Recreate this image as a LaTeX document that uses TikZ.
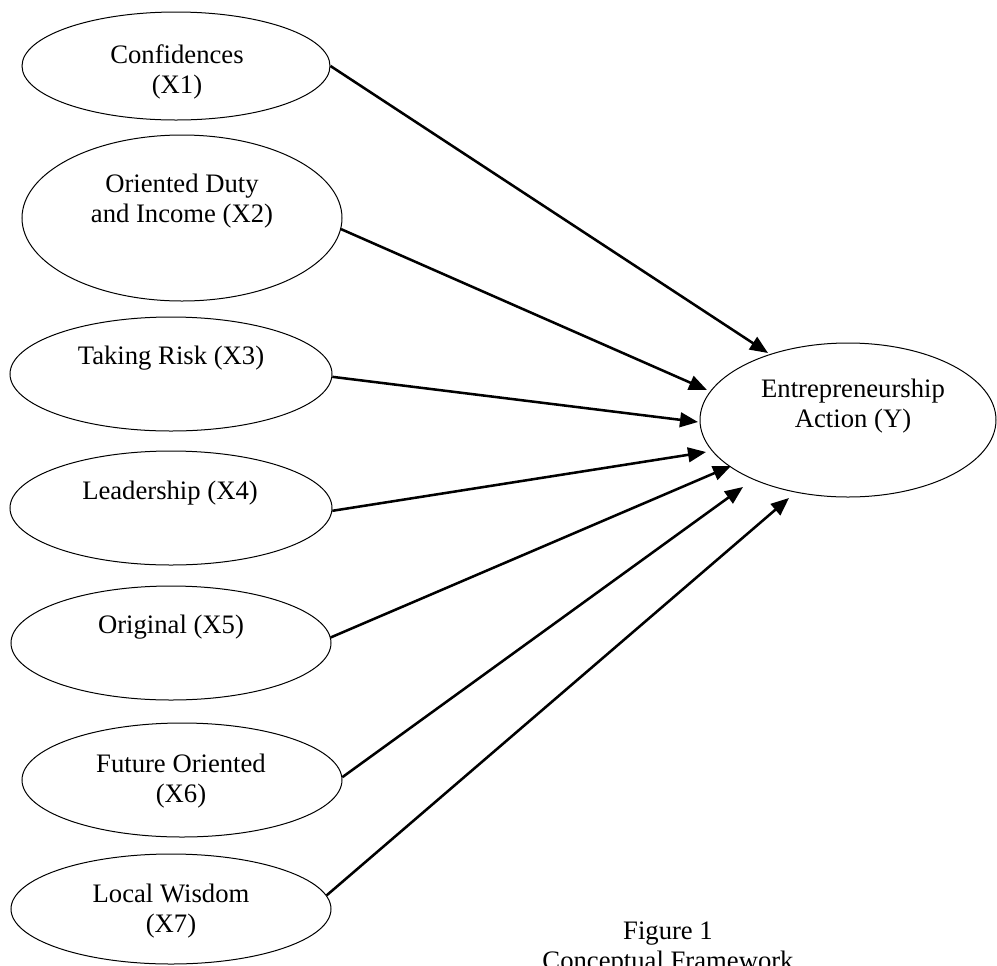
\documentclass[tikz,border=0pt]{standalone}
\usepackage{fontspec}
\setmainfont{Liberation Serif}
\usetikzlibrary{shapes.geometric,arrows.meta,calc}
\begin{document}
\begin{tikzpicture}[x=0.75pt,y=-0.75pt,
  oval/.style={draw, ellipse, line width=0.75pt, inner sep=0pt},
  lbl/.style={align=center, font=\fontsize{20}{22.5}\selectfont, inner sep=0pt},
  arr/.style={-{Triangle[length=13.5pt,width=11pt]}, line width=1.9pt}]
\useasboundingbox (0,0) rectangle (997,965);

% ellipses
\node[oval, minimum width=231pt, minimum height=81pt]   (e1) at (176,66)  {};
\node[oval, minimum width=240pt, minimum height=124.5pt] (e2) at (182,218) {};
\node[oval, minimum width=241.5pt, minimum height=85.5pt] (e3) at (171,374) {};
\node[oval, minimum width=241.5pt, minimum height=85.5pt] (e4) at (171,508) {};
\node[oval, minimum width=240pt, minimum height=85.5pt] (e5) at (171,643) {};
\node[oval, minimum width=240pt, minimum height=85.5pt] (e6) at (182,780) {};
\node[oval, minimum width=240pt, minimum height=82.5pt] (e7) at (171,909) {};
\node[oval, minimum width=222pt, minimum height=115.5pt] (Y) at (848,420) {};

% labels
\node[lbl] (t1) at (177,72)  {Confidences\\(X1)};
\node[lbl] (t2) at (182,201) {Oriented Duty\\and Income (X2)};
\node[lbl] (t3) at (171,358) {Taking Risk (X3)};
\node[lbl] (t4) at (170,493) {Leadership (X4)};
\node[lbl] (t5) at (171,627) {Original (X5)};
\node[lbl] (t6) at (181,781) {Future Oriented\\(X6)};
\node[lbl] (t7) at (171,911) {Local Wisdom\\(X7)};
\node[lbl] (tY) at (853,406) {Entrepreneurship\\Action (Y)};
\node[lbl] (cap) at (668,948) {Figure 1\\Conceptual Framework};

% arrows
\draw[arr] (e1.east) -- ($(Y.center)+(-80,-67)$);
\draw[arr] (e2.-4)   -- ($(Y.center)+(-141,-30)$);
\draw[arr] (e3.-1)   -- ($(Y.center)+(-150,2)$);
\draw[arr] (e4.-1)   -- ($(Y.center)+(-142,32)$);
\draw[arr] (e5.2)    -- ($(Y.center)+(-117,46)$);
\draw[arr] (e6.1)    -- ($(Y.center)+(-105,67)$);
\draw[arr] (e7.5)    -- ($(Y.center)+(-59,78)$);
\end{tikzpicture}
\end{document}
